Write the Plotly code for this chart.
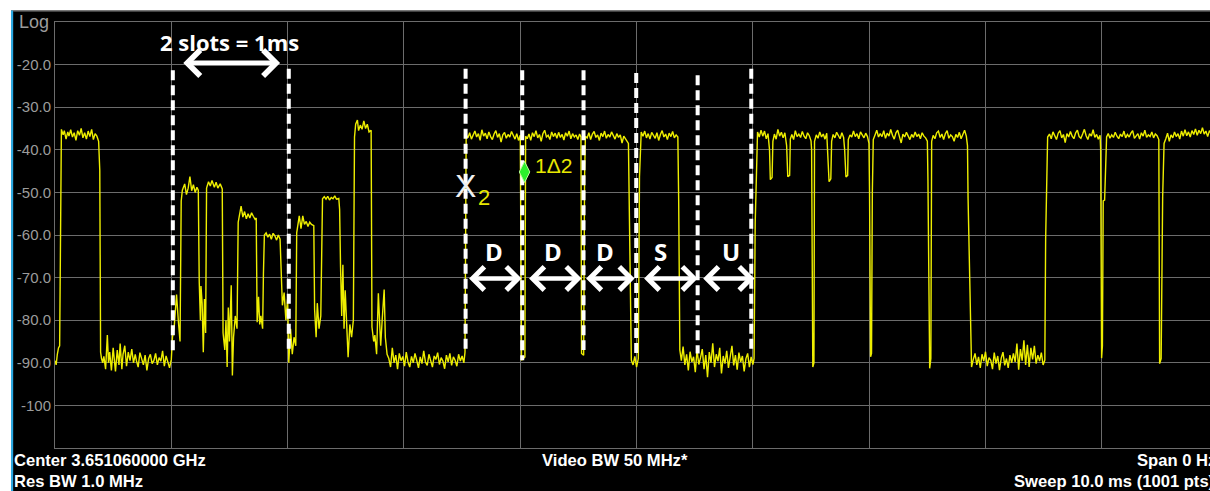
import plotly.graph_objects as go

# ---------------- data (time in ms, level in dBm) ----------------
burst_a = [(0.0,-89.5),(0.01,-90.5),(0.02,-88),(0.03,-86.5),(0.04,-86),(0.045,-58.5),(0.055,-35.2),
           (0.07,-36.5),(0.08,-35.5),(0.095,-37.5),(0.11,-35.8),(0.12,-36.8),(0.135,-35.3),(0.15,-37),
           (0.165,-36),(0.18,-37.8),(0.195,-35.5),(0.21,-36.6),(0.225,-35),(0.24,-37.2),(0.255,-36),
           (0.27,-37.5),(0.285,-35.6),(0.30,-36.9),(0.315,-35.2),(0.33,-37.6),(0.345,-36.2),(0.36,-36.8),
           (0.375,-38),(0.385,-44.8),(0.392,-87.5)]
floor_a = [(0.40,-89),(0.41,-90),(0.42,-88.5),(0.435,-91.5),(0.45,-83.5),(0.46,-90),(0.47,-87.5),
           (0.485,-91.8),(0.50,-86.5),(0.51,-89.5),(0.52,-92),(0.535,-87),(0.55,-90.5),(0.56,-85.5),
           (0.575,-91.5),(0.585,-88),(0.60,-86),(0.615,-90.8),(0.63,-87.5),(0.645,-89.5),(0.66,-86.8),
           (0.675,-90),(0.69,-88),(0.70,-89.5),(0.715,-91),(0.73,-87.6),(0.745,-89.2),(0.76,-90.5),
           (0.775,-88.2),(0.79,-91.8),(0.805,-89),(0.82,-88),(0.835,-90.2),(0.85,-89.5),(0.865,-87.8),
           (0.88,-90.5),(0.895,-88.8),(0.91,-89.6),(0.925,-87.2),(0.94,-90.8),(0.955,-88.4),(0.97,-89.6),
           (0.985,-91.2),(1.0,-89.2)]
mixed_slots = [(1.01,-84),(1.025,-81.5),(1.045,-74),(1.06,-80),(1.075,-85),(1.085,-52),(1.095,-49.5),
           (1.115,-48),(1.13,-50.5),(1.145,-49),(1.16,-46.3),(1.175,-49.6),(1.19,-48.2),(1.205,-50),
           (1.22,-48.8),(1.232,-49.5),(1.24,-71),(1.25,-80),(1.255,-72),(1.265,-76),(1.275,-87.5),
           (1.285,-75),(1.295,-83),(1.303,-49),(1.32,-47.5),(1.335,-48.5),(1.35,-47.2),(1.37,-48.8),
           (1.385,-47.6),(1.40,-49),(1.42,-48),(1.438,-49.2),(1.445,-83),(1.46,-87),(1.47,-80),
           (1.48,-91),(1.49,-77),(1.50,-85),(1.515,-71.8),(1.525,-93),(1.535,-84),(1.55,-79),
           (1.565,-82),(1.575,-57),(1.59,-55),(1.60,-53.2),(1.615,-55.8),(1.63,-54.5),(1.645,-56.2),
           (1.66,-55),(1.675,-56),(1.69,-54.8),(1.705,-55.6),(1.72,-56.3),(1.73,-56),(1.738,-80.5),
           (1.75,-74.5),(1.76,-81),(1.77,-79),(1.785,-82),(1.792,-69),(1.80,-60),(1.815,-59.5),
           (1.83,-60.5),(1.845,-59.8),(1.86,-61),(1.875,-59.6),(1.89,-60.2),(1.905,-61.2),(1.92,-60),
           (1.935,-61),(1.94,-66.5),(1.955,-76.5),(1.97,-73.5),(1.985,-80),(2.00,-75),(2.01,-90),
           (2.025,-82),(2.04,-88),(2.055,-84),(2.07,-86),(2.078,-59.5),(2.09,-57),(2.10,-55.5),
           (2.115,-58.5),(2.13,-55.5),(2.145,-57.5),(2.16,-56.8),(2.175,-58),(2.19,-57),(2.205,-57.5),
           (2.225,-57.8),(2.232,-77.5),(2.245,-84),(2.255,-76),(2.27,-82),(2.285,-79),(2.292,-61.5),
           (2.30,-51.5),(2.315,-51),(2.33,-51.6),(2.345,-50.9),(2.36,-51.8),(2.375,-51.2),(2.39,-51.5),
           (2.405,-50.8),(2.42,-51.6),(2.44,-51.4),(2.447,-54),(2.455,-67.5),(2.465,-79),(2.475,-67),
           (2.485,-82),(2.495,-73),(2.505,-79),(2.52,-88.7),(2.535,-81),(2.55,-84),(2.565,-80),
           (2.575,-37),(2.585,-34),(2.60,-33),(2.61,-35.5),(2.625,-34.2),(2.64,-35.2),(2.655,-33.2),
           (2.67,-35),(2.685,-34),(2.70,-35.8),(2.718,-35.4),(2.725,-81.6),(2.74,-85),(2.75,-83.5),
           (2.765,-88),(2.78,-73.7),(2.79,-82),(2.80,-86),(2.815,-79),(2.83,-72.8),(2.84,-84),(2.855,-88)]
floor_b = [(2.87,-89),(2.885,-91),(2.90,-86.5),(2.915,-90),(2.93,-88.2),(2.945,-91.5),(2.96,-87.8),
           (2.975,-89.5),(2.99,-88.5),(3.005,-90.8),(3.02,-87.5),(3.035,-89.8),(3.05,-91),(3.065,-88.5),
           (3.08,-90),(3.095,-87.8),(3.11,-89.4),(3.125,-91.2),(3.14,-88.6),(3.155,-90.2),(3.17,-87.2),
           (3.185,-89.8),(3.20,-90.6),(3.215,-88),(3.23,-89.5),(3.245,-91),(3.26,-88.4),(3.275,-89.2),
           (3.29,-87.6),(3.305,-90.4),(3.32,-88.8),(3.335,-89.6),(3.35,-91.4),(3.365,-88.2),(3.38,-89.8),
           (3.395,-87.8),(3.41,-90.6),(3.425,-88.6),(3.44,-89.4),(3.455,-90.8),(3.47,-88),(3.485,-89.6),
           (3.50,-88.4),(3.515,-90),(3.525,-87.5)]
dl_slots = [(3.535,-36.5),(3.55,-37.2),(3.565,-36),(3.58,-37.5),(3.595,-36.4),(3.61,-35.6),(3.625,-37),
           (3.64,-36.2),(3.655,-37.8),(3.67,-35.3),(3.685,-36.8),(3.70,-36.1),(3.715,-37.4),(3.73,-35.8),
           (3.745,-36.9),(3.76,-37.6),(3.775,-36.3),(3.79,-35.5),(3.805,-37.1),(3.82,-36.2),(3.835,-38.2),
           (3.85,-36.5),(3.865,-35.9),(3.88,-37.3),(3.895,-36.4),(3.91,-37),(3.925,-35.7),(3.94,-36.8),
           (3.955,-37.5),(3.97,-36.2),(3.985,-37.8),(4.0,-36.6),(4.011,-89.4),(4.04,-88.6),(4.046,-36.8),
           (4.06,-37.4),(4.075,-36.3),(4.09,-37.8),(4.105,-36),(4.12,-36.9),(4.135,-35.5),(4.15,-37.2),
           (4.165,-36.4),(4.18,-38),(4.195,-36.2),(4.21,-35.4),(4.225,-37),(4.24,-36.6),(4.255,-37.6),
           (4.27,-35.8),(4.285,-36.9),(4.30,-36.1),(4.315,-37.3),(4.33,-35.9),(4.345,-37.1),(4.36,-36.4),
           (4.375,-37.7),(4.39,-36),(4.405,-36.8),(4.42,-35.6),(4.435,-37.4),(4.45,-36.2),(4.465,-37),
           (4.48,-36.5),(4.495,-37.6),(4.51,-36.3),(4.522,-37),(4.527,-87.8),(4.545,-88.2),(4.553,-46.3),
           (4.56,-36.8),(4.575,-37.2),(4.59,-36),(4.605,-37.6),(4.62,-36.3),(4.635,-35.7),(4.65,-37.1),
           (4.665,-36.5),(4.68,-37.8),(4.695,-36.1),(4.71,-36.9),(4.725,-35.6),(4.74,-37.3),(4.755,-36.4),
           (4.77,-37),(4.785,-35.8),(4.80,-36.7),(4.815,-37.5),(4.83,-36.2),(4.845,-37.1),(4.86,-36.5),
           (4.875,-38.4),(4.89,-36.8),(4.905,-37.4),(4.918,-37.8),(4.93,-38.5),(4.955,-89.4),(4.97,-90.5),
           (4.985,-88.5),(5.00,-91),(5.015,-89),(5.025,-46.4),(5.04,-35.8),(5.055,-36.8),(5.07,-35.6),
           (5.085,-37.2),(5.10,-36.2),(5.115,-37.5),(5.13,-35.9),(5.145,-36.7),(5.16,-37.3),(5.175,-36),
           (5.19,-37.8),(5.205,-36.4),(5.22,-35.5),(5.235,-37),(5.25,-36.3),(5.265,-37.6),(5.28,-36.1),
           (5.295,-36.9),(5.31,-35.7),(5.325,-37.2),(5.34,-36.5),(5.355,-37),(5.362,-51.8),(5.372,-87)]
floor_c = [(5.385,-89.5),(5.40,-86.2),(5.415,-90.5),(5.43,-88),(5.445,-91.8),(5.46,-87.4),(5.475,-89.8),
           (5.49,-88.6),(5.505,-92.2),(5.52,-87),(5.535,-90.4),(5.55,-88.8),(5.565,-86.8),(5.58,-91.5),
           (5.595,-88.2),(5.61,-93.4),(5.625,-87.5),(5.64,-90),(5.655,-85.4),(5.67,-91),(5.685,-88),
           (5.70,-89.6),(5.715,-86.5),(5.73,-92.5),(5.745,-88.4),(5.76,-90.2),(5.775,-87.2),(5.79,-91.2),
           (5.805,-88.8),(5.82,-86),(5.835,-90.6),(5.85,-88.2),(5.865,-91.6),(5.88,-87.6),(5.895,-89.8),
           (5.91,-88.4),(5.925,-92),(5.94,-89),(5.955,-87.8),(5.97,-91),(5.985,-88.6),(6.00,-90.4),
           (6.01,-89),(6.02,-57.2)]
dl_long = [(6.04,-35.8),(6.055,-37),(6.07,-35.4),(6.085,-36.8),(6.10,-35.6),(6.115,-37.4),(6.13,-36.2),
           (6.143,-40),(6.15,-47),(6.165,-46.5),(6.172,-38),(6.185,-36.3),(6.20,-37.5),(6.215,-35.2),
           (6.23,-36.8),(6.245,-35.9),(6.26,-37.2),(6.275,-36),(6.29,-39),(6.30,-46.3),(6.316,-46),
           (6.322,-37.5),(6.335,-36.4),(6.35,-37.6),(6.365,-35.5),(6.38,-36.9),(6.395,-36.3),(6.41,-37.1),
           (6.425,-35.7),(6.44,-36.8),(6.455,-37.4),(6.47,-36),(6.485,-36.7),(6.50,-37.9),(6.505,-40),
           (6.515,-91),(6.525,-90),(6.53,-38),(6.545,-36.5),(6.56,-37.3),(6.575,-35.8),(6.59,-37),
           (6.605,-36.3),(6.62,-37.5),(6.635,-36.1),(6.643,-40),(6.655,-47.5),(6.67,-46.8),(6.677,-38),
           (6.69,-36.4),(6.705,-37.2),(6.72,-35.9),(6.735,-36.8),(6.75,-37.4),(6.765,-36),(6.78,-37.1),
           (6.789,-40),(6.80,-46.4),(6.815,-46),(6.82,-37.6),(6.835,-36.5),(6.85,-37),(6.865,-35.6),
           (6.88,-36.9),(6.895,-36.2),(6.91,-37.4),(6.925,-35.8),(6.94,-36.6),(6.955,-37.2),(6.97,-36.1),
           (6.985,-36.9),(6.998,-38.5),(7.003,-50.3),(7.012,-88.6),(7.02,-87.8),(7.027,-50),(7.035,-37.6),
           (7.05,-36.5),(7.065,-35.4),(7.08,-37),(7.095,-36.2),(7.11,-36.9),(7.125,-35.5),(7.14,-37.3),
           (7.155,-36.1),(7.17,-36.8),(7.185,-35.2),(7.20,-36.6),(7.215,-37.5),(7.23,-36),(7.245,-35.4),
           (7.26,-36.9),(7.275,-38.4),(7.29,-36.3),(7.305,-37),(7.32,-35.9),(7.335,-36.7),(7.35,-37.6),
           (7.365,-36.4),(7.38,-37.1),(7.395,-35.8),(7.41,-36.9),(7.425,-36.3),(7.44,-37.4),(7.455,-36),
           (7.47,-36.8),(7.485,-37.2),(7.50,-38),(7.505,-47),(7.52,-91.3),(7.53,-89),(7.537,-38),
           (7.55,-36.6),(7.565,-37.4),(7.58,-36),(7.595,-35.6),(7.61,-37.1),(7.625,-36.3),(7.64,-37.6),
           (7.655,-36.2),(7.67,-35.5),(7.685,-37.3),(7.70,-36.5),(7.715,-36.9),(7.73,-38),(7.745,-36.4),
           (7.76,-37.1),(7.775,-35.9),(7.79,-37.4),(7.805,-36.2),(7.82,-35.4),(7.835,-36.8),(7.845,-39),
           (7.85,-51.4),(7.88,-91)]
floor_d = [(7.895,-89.2),(7.91,-87.8),(7.925,-90.5),(7.94,-88.6),(7.955,-91.2),(7.97,-88),(7.985,-89.6),
           (8.00,-87.4),(8.015,-90.8),(8.03,-88.8),(8.045,-89.4),(8.06,-91.5),(8.075,-87.6),(8.09,-90.2),
           (8.105,-88.4),(8.12,-91.7),(8.135,-88.9),(8.15,-87.5),(8.165,-90.6),(8.18,-89),(8.195,-91.2),
           (8.21,-88.2),(8.225,-90),(8.24,-87.8),(8.255,-89.8),(8.27,-85.5),(8.285,-91.6),(8.30,-86.8),
           (8.315,-89.5),(8.33,-84.7),(8.345,-90.5),(8.36,-85.8),(8.375,-91),(8.39,-86.5),(8.405,-89.2),
           (8.42,-86),(8.435,-90.2),(8.45,-88.2),(8.465,-89.6),(8.48,-87.6),(8.495,-90.5),(8.51,-89.4),
           (8.517,-60.8)]
dl_tail = [(8.534,-37),(8.55,-36.3),(8.565,-37.4),(8.58,-35.8),(8.595,-36.7),(8.61,-37.6),(8.625,-36.1),
           (8.64,-35.5),(8.655,-37.2),(8.67,-36.4),(8.685,-38.3),(8.70,-36.2),(8.715,-37),(8.73,-35.7),
           (8.745,-36.8),(8.76,-37.4),(8.775,-36),(8.79,-35.4),(8.805,-36.9),(8.82,-37.3),(8.835,-36.3),
           (8.85,-35.2),(8.865,-36.7),(8.88,-37.6),(8.895,-36.2),(8.91,-36.8),(8.925,-35.3),(8.94,-37.1),
           (8.955,-36.4),(8.97,-37.5),(8.985,-36.6),(8.99,-40),(8.998,-88.9),(9.005,-86),(9.012,-52),
           (9.024,-51.8),(9.041,-37),(9.055,-36.2),(9.07,-37.3),(9.085,-36.5),(9.10,-37.1),(9.115,-35.9),
           (9.13,-36.8),(9.145,-37.4),(9.16,-36.3),(9.175,-36.9),(9.19,-35.6),(9.205,-37.2),(9.22,-36.4),
           (9.235,-37),(9.25,-36.1),(9.265,-35.5),(9.28,-37.3),(9.295,-36.7),(9.31,-36.2),(9.325,-37.5),
           (9.34,-36),(9.355,-36.8),(9.37,-35.4),(9.385,-37.1),(9.40,-36.5),(9.415,-36.9),(9.43,-35.8),
           (9.445,-37.2),(9.46,-36.3),(9.475,-36.7),(9.49,-37.6),(9.497,-90.2),(9.51,-89),(9.523,-51),
           (9.535,-38.5),(9.55,-37.4),(9.565,-36.1),(9.58,-38),(9.595,-36.5),(9.61,-37.2),(9.625,-35.8),
           (9.64,-36.9),(9.655,-36.2),(9.67,-37.5),(9.685,-35.6),(9.70,-36.8),(9.715,-35.3),(9.73,-36.7),
           (9.745,-35.8),(9.76,-37),(9.775,-35.5),(9.79,-36.4),(9.805,-35.1),(9.82,-36.6),(9.835,-35.4),
           (9.85,-36.2),(9.865,-34.8),(9.88,-36.3),(9.895,-35.6),(9.91,-36.9),(9.925,-35.5),(9.94,-36.2)]

# slot boundary markers: (time ms, top dBm, bottom dBm)
slot_lines = [(1.013,-21.3,-88.0),(2.010,-21.0,-87.5),(3.530,-21.0,-87.8),(4.017,-21.3,-89.4),
              (4.544,-21.3,-87.0),(4.997,-22.0,-88.7),(5.525,-22.5,-87.8),(5.986,-21.0,-87.8)]
# two-slot span arrow
span_arrow = (1.09, 1.935, -19.6)
span_label = "2 slots = 1ms"
# slot type arrows: (start ms, end ms, label, label centre ms)
slot_types = [(3.547,4.011,"D",3.77),(4.063,4.527,"D",4.278),(4.553,4.983,"D",4.725),
              (5.052,5.525,"S",5.207),(5.560,6.014,"U",5.808)]
slot_arrow_level = -70.2
slot_label_level = -63.9
marker2 = (3.53, -48.5)
marker1 = (4.037, -45.2)

y_ticks = [-20, -30, -40, -50, -60, -70, -80, -90, -100]
y_tick_text = ["-20.0", "-30.0", "-40.0", "-50.0", "-60.0", "-70.0", "-80.0", "-90.0", "-100"]

# ---------------- figure ----------------
trace_pts = burst_a + floor_a + mixed_slots + floor_b + dl_slots + floor_c + dl_long + floor_d + dl_tail
tx = [p[0] for p in trace_pts]
ty = [p[1] for p in trace_pts]

fig = go.Figure()
fig.add_trace(go.Scatter(x=tx, y=ty, mode="lines", line=dict(color="#eeee00", width=1.4),
                         hoverinfo="skip", showlegend=False))

for t, top, bot in slot_lines:
    fig.add_trace(go.Scatter(x=[t, t], y=[top, bot], mode="lines",
                             line=dict(color="white", width=4, dash="10px,5px"),
                             hoverinfo="skip", showlegend=False))

# markers
fig.add_trace(go.Scatter(x=[marker1[0]], y=[marker1[1]], mode="markers",
                         marker=dict(symbol="diamond-tall", size=15, color="#2cf02c",
                                     line=dict(color="#b8ff9a", width=1)),
                         hoverinfo="skip", showlegend=False))

ann = []
# span arrow
ann.append(dict(x=span_arrow[1], y=span_arrow[2], ax=span_arrow[0], ay=span_arrow[2],
                xref="x", yref="y", axref="x", ayref="y", text="", showarrow=True,
                arrowhead=4, startarrowhead=4, arrowside="end+start", arrowwidth=5,
                arrowsize=1.0, startarrowsize=1.0, arrowcolor="white", standoff=0, startstandoff=0))
ann.append(dict(x=(span_arrow[0] + span_arrow[1]) / 2 - 0.01, y=-14.8, xref="x", yref="y",
                text="<b>" + span_label + "</b>", showarrow=False,
                font=dict(family="Open Sans", size=22, color="white")))
for s, e, lab, c in slot_types:
    ann.append(dict(x=e, y=slot_arrow_level, ax=s, ay=slot_arrow_level,
                    xref="x", yref="y", axref="x", ayref="y", text="", showarrow=True,
                    arrowhead=4, startarrowhead=4, arrowside="end+start", arrowwidth=4.5,
                    arrowsize=1.0, startarrowsize=1.0, arrowcolor="white", standoff=0, startstandoff=0))
    ann.append(dict(x=c, y=slot_label_level, xref="x", yref="y", text="<b>" + lab + "</b>",
                    showarrow=False, font=dict(family="Open Sans", size=24, color="white")))

# marker labels
ann.append(dict(x=marker2[0], y=marker2[1], xref="x", yref="y", text="X", showarrow=False,
                font=dict(family="Liberation Sans Narrow, Liberation Sans", size=32, color="#f0f0f0")))
ann.append(dict(x=3.684, y=-51.3, xref="x", yref="y", text="2", showarrow=False,
                font=dict(family="Liberation Sans", size=22, color="#e8e800")))
ann.append(dict(x=4.287, y=-43.6, xref="x", yref="y", text="1\u03942", showarrow=False,
                font=dict(family="Liberation Sans", size=21, color="#e8e800")))

# panel texts (paper coords)
info_font = dict(family="Liberation Sans", size=16.6, color="white")
ann += [
    dict(x=-0.0329, y=1.0, xref="paper", yref="paper", text="Log", showarrow=False,
         xanchor="left", yanchor="middle", font=dict(family="Liberation Sans", size=18, color="#9c9c9c")),
    dict(x=-0.0372, y=-0.0305, xref="paper", yref="paper", text="<b>Center 3.651060000 GHz</b>",
         showarrow=False, xanchor="left", yanchor="middle", font=info_font),
    dict(x=-0.0372, y=-0.0775, xref="paper", yref="paper", text="<b>Res BW 1.0 MHz</b>",
         showarrow=False, xanchor="left", yanchor="middle", font=info_font),
    dict(x=0.4848, y=-0.0305, xref="paper", yref="paper", text="<b>Video BW 50 MHz*</b>",
         showarrow=False, xanchor="center", yanchor="middle", font=info_font),
    dict(x=0.9352, y=-0.0305, xref="paper", yref="paper", text="<b>Span 0 Hz</b>",
         showarrow=False, xanchor="left", yanchor="middle", font=info_font),
    dict(x=0.8290, y=-0.0775, xref="paper", yref="paper", text="<b>Sweep 10.0 ms (1001 pts)</b>",
         showarrow=False, xanchor="left", yanchor="middle", font=info_font),
]

shapes = [
    # white outer frame (top band and left strip)
    dict(type="rect", xref="paper", yref="paper", x0=-0.06, x1=1.05, y0=1.027, y1=1.07,
         fillcolor="white", line=dict(width=0), layer="below"),
    dict(type="rect", xref="paper", yref="paper", x0=-0.06, x1=-0.0381, y0=-0.2, y1=1.07,
         fillcolor="white", line=dict(width=0), layer="below"),
    # blue left edge
    dict(type="rect", xref="paper", yref="paper", x0=-0.0381, x1=-0.0362, y0=-0.2, y1=1.027,
         fillcolor="#2ba7e0", line=dict(width=0), layer="below"),
    # gray top edge of the display
    dict(type="line", xref="paper", yref="paper", x0=-0.0362, x1=1.05, y0=1.0255, y1=1.0255,
         line=dict(color="#6a6a6a", width=1), layer="below"),
]

fig.update_layout(
    width=1210, height=491,
    margin=dict(l=55, r=0, t=22, b=43),
    paper_bgcolor="black", plot_bgcolor="black",
    showlegend=False,
    annotations=ann, shapes=shapes,
    xaxis=dict(range=[0, 9.93], dtick=1, tick0=0, showgrid=True, gridcolor="#6c6c6c", gridwidth=1,
               showticklabels=False, zeroline=False, showline=True, linecolor="#6c6c6c",
               linewidth=1, mirror=True, ticks=""),
    yaxis=dict(range=[-110, -10], tickvals=y_ticks, ticktext=y_tick_text, showgrid=True,
               gridcolor="#6c6c6c", gridwidth=1, zeroline=False, showline=True, linecolor="#6c6c6c",
               linewidth=1, ticks="", tickfont=dict(family="Liberation Sans", size=15, color="#9c9c9c")),
)

fig.write_html("out.html")
